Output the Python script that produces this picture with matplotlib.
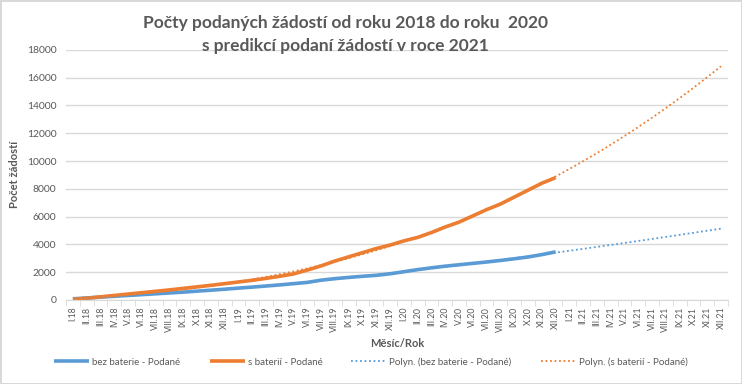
import numpy as np
import matplotlib.pyplot as plt

# monthly labels I.18 .. XII.21
roman = ["I", "II", "III", "IV", "V", "VI", "VII", "VIII", "IX", "X", "XI", "XII"]
years = ["18", "19", "20", "21"]
labels = [m + "." + y for y in years for m in roman]

# submitted requests, I.18 .. XII.20
bez_baterie = [80, 140, 200, 260, 320, 380, 440, 500, 560, 630, 700, 770,
               850, 920, 1000, 1080, 1170, 1260, 1420, 1530, 1620, 1700, 1770, 1880,
               2030, 2180, 2310, 2430, 2530, 2630, 2730, 2840, 2960, 3090, 3260, 3460]
s_baterii = [30, 120, 220, 320, 420, 520, 620, 720, 830, 940, 1050, 1170,
             1290, 1410, 1550, 1700, 1870, 2150, 2450, 2800, 3100, 3400, 3700, 3950,
             4250, 4500, 4850, 5250, 5600, 6050, 6500, 6900, 7400, 7900, 8400, 8800]

blue = "#5B9BD5"
orange = "#ED7D31"
grey = "#595959"
font = "Lato"

fig = plt.figure(figsize=(7.42, 3.84), dpi=100)
fig.patch.set_edgecolor("#D9D9D9")
fig.patch.set_linewidth(2)
ax = fig.add_axes([0.089, 0.219, 0.892, 0.651])

x = np.arange(len(bez_baterie))
x_all = np.arange(len(labels))

ax.plot(x, bez_baterie, color=blue, lw=2.6, label="bez baterie - Podané", solid_capstyle="butt")
ax.plot(x, s_baterii, color=orange, lw=2.6, label="s baterií - Podané", solid_capstyle="butt")

# polynomial (order 3) trend lines, forecast 12 months ahead
p_bez = np.polyfit(x, bez_baterie, 3)
p_s = np.polyfit(x, s_baterii, 3)
ax.plot(x_all, np.polyval(p_bez, x_all), color=blue, lw=1.3, ls=(0, (1, 1.5)),
        label="Polyn. (bez baterie - Podané)")
ax.plot(x_all, np.polyval(p_s, x_all), color=orange, lw=1.3, ls=(0, (1, 1.5)),
        label="Polyn. (s baterií - Podané)")

ax.set_xlim(-0.5, len(labels) - 0.5)
ax.set_ylim(0, 18000)
ax.set_yticks(np.arange(0, 18001, 2000))
ax.grid(axis="y", color="#D9D9D9", lw=1)
ax.set_axisbelow(True)
ax.set_xticks(x_all)
ax.set_xticklabels(labels, rotation=90, fontsize=6.3, color=grey, family=font)
ax.set_xticks(np.arange(-0.5, len(labels), 1), minor=True)
ax.tick_params(axis="x", which="major", length=0, pad=5)
ax.tick_params(axis="x", which="minor", length=4, color="#D9D9D9")
ax.tick_params(axis="y", length=0, labelsize=7.5, labelcolor=grey, pad=7)
for t in ax.get_yticklabels():
    t.set_family(font)
for s in ["top", "right", "left"]:
    ax.spines[s].set_visible(False)
ax.spines["bottom"].set_color("#D9D9D9")

ax.set_xlabel("Měsíc/Rok", fontsize=8, fontweight="bold", color=grey, family=font, labelpad=4)
ax.set_ylabel("Počet žádostí", fontsize=8, fontweight="bold", color=grey, family=font, labelpad=5)

fig.text(0.465, 0.96, "Počty podaných žádostí od roku 2018 do roku  2020\ns predikcí podaní žádostí v roce 2021",
         ha="center", va="top", fontsize=12.5, fontweight="bold", color=grey, family=font,
         linespacing=1.5)

fig.legend(loc="center", bbox_to_anchor=(0.5, 0.057), ncol=4, frameon=False,
           prop={"family": font, "size": 7}, labelcolor=grey, handlelength=3.6,
           columnspacing=3.0, handletextpad=0.3)

fig.savefig("out.png", dpi=100)
